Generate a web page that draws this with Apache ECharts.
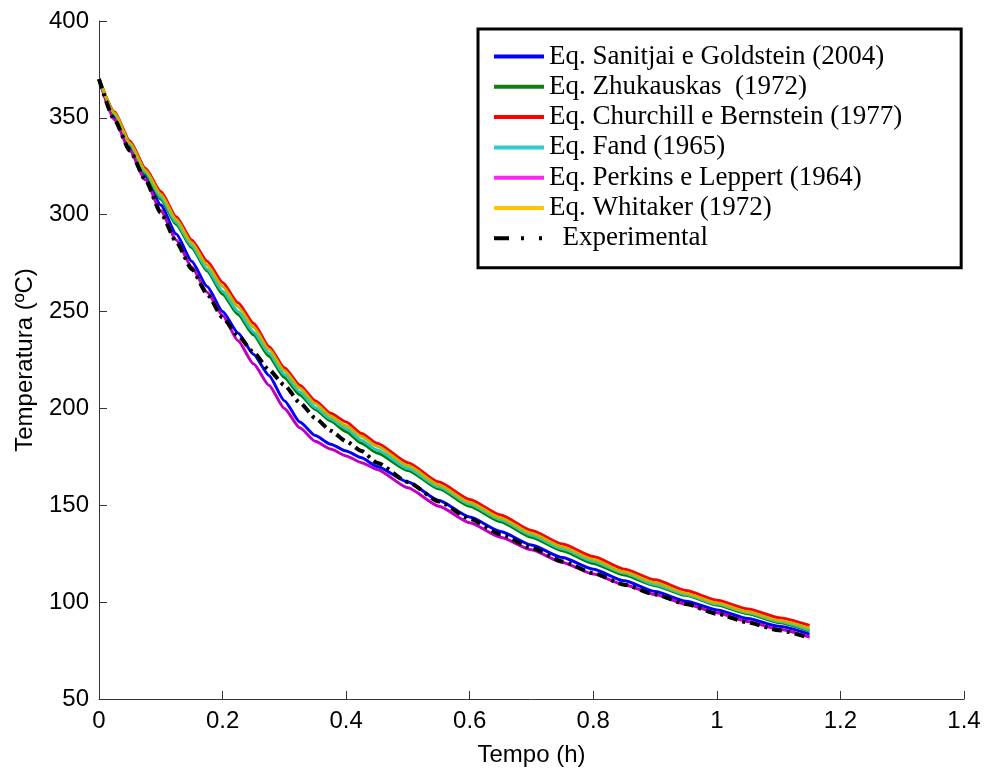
<!DOCTYPE html>
<html>
<head>
<meta charset="utf-8">
<script src="https://cdn.jsdelivr.net/npm/echarts@6/dist/echarts.min.js"></script>
<style>html,body{margin:0;padding:0;background:#fff;}#chart{width:984px;height:772px;}</style>
</head>
<body>
<div id="chart"></div>
<script>
var tempo = [0, 0.025, 0.05, 0.075, 0.1, 0.125, 0.15, 0.175, 0.2, 0.225, 0.25, 0.275, 0.3, 0.325, 0.35, 0.375, 0.4, 0.425, 0.45, 0.5, 0.55, 0.6, 0.65, 0.7, 0.75, 0.8, 0.85, 0.9, 0.95, 1.0, 1.05, 1.1, 1.15];
var sanitjai = [370, 350, 335, 320, 305, 290, 276, 263, 250, 239, 228, 217, 204, 193, 186, 181.5, 178, 174.5, 170, 162, 152.5, 144, 136.5, 129.5, 123, 117, 111, 105.5, 100.5, 96, 91.5, 87.5, 83.5];
var zhukauskas = [370, 352, 336, 321, 308, 295, 283, 271, 259, 248.5, 238, 227, 216, 207, 199.5, 193.5, 188, 182, 177, 168, 158.5, 149.5, 141.5, 133.5, 126.5, 120, 114, 108.5, 103.5, 98.5, 94, 89.5, 85];
var churchill = [370, 353, 338, 324, 312, 299, 287, 276, 265, 254.5, 244, 232, 221, 212, 204, 197.5, 193, 187, 182, 172, 162, 153, 145, 137, 130, 123.5, 117, 111.5, 106, 101, 96.5, 92, 88];
var fand = [370, 352, 336.5, 322, 309, 296, 284, 272, 260.5, 250, 239.5, 228.5, 217.5, 208.5, 200.5, 194.5, 189.5, 183.5, 178.5, 169, 159.5, 150.5, 142.5, 134.5, 127.5, 121, 115, 109, 104, 99, 94.5, 90, 85.5];
var perkins = [370, 349, 333, 318, 302, 287, 273, 260, 248, 235, 223, 212, 200, 190, 183, 179, 175.5, 172, 168.5, 159, 149.5, 141, 133.5, 127, 120.5, 114.5, 109, 104, 99, 94.5, 90, 86, 82];
var whitaker = [370, 352.5, 337, 323, 310.5, 297.5, 285.5, 274, 263, 252.5, 242, 230.5, 219.5, 210.5, 202.5, 196, 191, 185.5, 180.5, 170.5, 160.5, 151.5, 143.5, 135.5, 128.5, 122, 115.5, 110, 104.5, 99.5, 95, 90.5, 86.5];
var experimental = [370, 349, 333, 318, 301, 286, 272, 259, 247, 237.5, 229, 220, 212, 203, 195, 188.5, 183, 178, 172, 162, 152, 143, 135, 128, 121, 115, 109, 104, 99, 94, 89.5, 85.5, 81.5];

var seriesNames = ['Eq. Sanitjai e Goldstein (2004)', 'Eq. Zhukauskas  (1972)', 'Eq. Churchill e Bernstein (1977)', 'Eq. Fand (1965)', 'Eq. Perkins e Leppert (1964)', 'Eq. Whitaker (1972)', '  Experimental'];
var seriesValues = [sanitjai, zhukauskas, churchill, fand, perkins, whitaker, experimental];
var colors = ['#0000ff', '#008000', '#ff0000', '#22c4c4', '#c000c0', '#bdb500', '#000000'];
var legendColors = ['#0000ff', '#0f7f0f', '#ff0000', '#33cccc', '#ff22ff', '#ffc800', '#000000'];

function pairs(vals) {
  return tempo.map(function (t, i) { return [t, vals[i]]; });
}

var series = seriesValues.map(function (vals, i) {
  var isExp = i === 6;
  return {
    name: seriesNames[i],
    type: 'line',
    data: pairs(vals),
    symbol: 'none',
    silent: true,
    smooth: 0.2,
    smoothMonotone: 'x',
    z: 2 + i,
    lineStyle: {
      color: colors[i],
      width: isExp ? 4 : 3,
      type: isExp ? [10, 5, 3, 5] : 'solid'
    },
    itemStyle: { color: colors[i] }
  };
});

var legendData = seriesNames.map(function (n, i) {
  var isExp = i === 6;
  return {
    name: n,
    itemStyle: { color: legendColors[i], opacity: 0 },
    lineStyle: { color: legendColors[i], width: 4, type: isExp ? [15, 12, 3, 15, 3, 100] : 'solid' }
  };
});

var chart = echarts.init(document.getElementById('chart'), null, { renderer: 'canvas' });
chart.setOption({
  animation: false,
  backgroundColor: '#ffffff',
  grid: { left: 99, right: 20, top: 21, bottom: 72, containLabel: false },
  legend: {
    data: legendData,
    orient: 'vertical',
    left: 478,
    top: 29,
    padding: [14, 59, 16, 14],
    itemWidth: 50,
    itemHeight: 14,
    itemGap: 3.3,
    itemTextGap: 11,
    borderColor: '#000',
    borderWidth: 3,
    backgroundColor: '#fff',
    selectedMode: false,
    textStyle: { fontFamily: 'Liberation Serif', fontSize: 27, color: '#000', lineHeight: 27 }
  },
  xAxis: {
    type: 'value',
    min: 0, max: 1.4, interval: 0.2,
    name: 'Tempo (h)',
    nameLocation: 'middle',
    nameGap: 44,
    nameTextStyle: { fontFamily: 'Liberation Sans', fontSize: 24, color: '#000' },
    axisLine: { show: true, onZero: false, lineStyle: { color: '#333', width: 1 } },
    axisTick: { show: true, inside: true, length: 8, lineStyle: { color: '#333' } },
    axisLabel: { fontFamily: 'Liberation Sans', fontSize: 24, color: '#000', margin: 10 },
    splitLine: { show: false }
  },
  yAxis: {
    type: 'value',
    min: 50, max: 400, interval: 50,
    name: 'Temperatura (ºC)',
    nameLocation: 'middle',
    nameGap: 62,
    nameRotate: 90,
    nameTextStyle: { fontFamily: 'Liberation Sans', fontSize: 24, color: '#000' },
    axisLine: { show: true, onZero: false, lineStyle: { color: '#333', width: 1 } },
    axisTick: { show: true, inside: true, length: 8, lineStyle: { color: '#333' } },
    axisLabel: { fontFamily: 'Liberation Sans', fontSize: 24, color: '#000', margin: 10 },
    splitLine: { show: false }
  },
  series: series
});
</script>
</body>
</html>
